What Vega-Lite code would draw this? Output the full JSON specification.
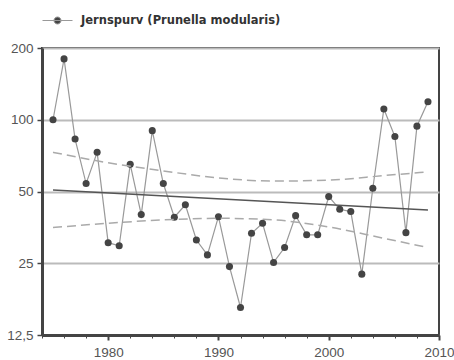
{
  "$schema": "https://vega.github.io/schema/vega-lite/v6.json",
  "autosize": {"type": "none"},
  "width": 397,
  "height": 287,
  "padding": {"left": 42, "top": 48, "right": 15, "bottom": 25},
  "background": "white",
  "config": {
    "view": {"stroke": "#444", "strokeWidth": 2},
    "font": "Liberation Sans",
    "axis": {"labelFont": "Liberation Sans", "labelFontSize": 13.5, "labelColor": "#555", "domainColor": "#444", "domainWidth": 3, "tickColor": "#444", "titleFont": "Liberation Sans"}
  },
  "datasets": {
    "obs": [
      {"year": 1975, "index": 100}, {"year": 1976, "index": 180}, {"year": 1977, "index": 83},
      {"year": 1978, "index": 54}, {"year": 1979, "index": 73}, {"year": 1980, "index": 30.5},
      {"year": 1981, "index": 29.6}, {"year": 1982, "index": 65}, {"year": 1983, "index": 40},
      {"year": 1984, "index": 90}, {"year": 1985, "index": 54}, {"year": 1986, "index": 39},
      {"year": 1987, "index": 44}, {"year": 1988, "index": 31.3}, {"year": 1989, "index": 27.1},
      {"year": 1990, "index": 39.2}, {"year": 1991, "index": 24.2}, {"year": 1992, "index": 16.3},
      {"year": 1993, "index": 33.4}, {"year": 1994, "index": 36.8}, {"year": 1995, "index": 25.2},
      {"year": 1996, "index": 29.1}, {"year": 1997, "index": 39.6}, {"year": 1998, "index": 32.9},
      {"year": 1999, "index": 32.9}, {"year": 2000, "index": 47.6}, {"year": 2001, "index": 42.1},
      {"year": 2002, "index": 41.2}, {"year": 2003, "index": 22.5}, {"year": 2004, "index": 51.6},
      {"year": 2005, "index": 111}, {"year": 2006, "index": 85}, {"year": 2007, "index": 33.6},
      {"year": 2008, "index": 94}, {"year": 2009, "index": 119}
    ],
    "fit": [
      {"curve": "trend", "year": 1975, "value": 50.7},
      {"curve": "trend", "year": 2009, "value": 41.8},
      {"curve": "upper", "year": 1975, "value": 73},
      {"curve": "upper", "year": 1980, "value": 66},
      {"curve": "upper", "year": 1985, "value": 61},
      {"curve": "upper", "year": 1990, "value": 57},
      {"curve": "upper", "year": 1995, "value": 55.3},
      {"curve": "upper", "year": 2000, "value": 55.8},
      {"curve": "upper", "year": 2005, "value": 58.3},
      {"curve": "upper", "year": 2009, "value": 60.5},
      {"curve": "lower", "year": 1975, "value": 35.3},
      {"curve": "lower", "year": 1980, "value": 36.8},
      {"curve": "lower", "year": 1985, "value": 38},
      {"curve": "lower", "year": 1990, "value": 38.6},
      {"curve": "lower", "year": 1995, "value": 38},
      {"curve": "lower", "year": 2000, "value": 35.5},
      {"curve": "lower", "year": 2005, "value": 31.8},
      {"curve": "lower", "year": 2009, "value": 29.1}
    ]
  },
  "encoding": {
    "x": {
      "field": "year", "type": "quantitative",
      "scale": {"domain": [1974, 2010], "nice": false, "zero": false},
      "axis": {
        "title": null, "grid": false,
        "values": [1974, 1976, 1978, 1980, 1982, 1984, 1986, 1988, 1990, 1992, 1994, 1996, 1998, 2000, 2002, 2004, 2006, 2008, 2010],
        "labelExpr": "datum.value % 10 === 0 ? format(datum.value, 'd') : ''",
        "labelFlush": false,
        "labelOverlap": false,
        "labelBound": false,
        "tickSize": {"condition": {"test": "datum.value % 10 === 0", "value": 5}, "value": 3},
        "tickWidth": {"condition": {"test": "datum.value % 10 === 0", "value": 2}, "value": 1},
        "labelPadding": 5
      }
    }
  },
  "layer": [
    {
      "data": {"name": "obs"},
      "mark": {"type": "line", "strokeWidth": 1.2, "color": "#999"},
      "encoding": {
        "y": {
          "field": "index", "type": "quantitative",
          "scale": {"type": "log", "domain": [12.5, 200], "nice": false},
          "axis": {
            "title": null,
            "values": [12.5, 25, 50, 100, 200],
            "labelExpr": "datum.value == 12.5 ? '12,5' : format(datum.value, 'd')",
            "labelFlush": false,
            "grid": true, "gridColor": "#bbb", "gridWidth": 2,
            "tickSize": 5, "tickWidth": 1.5, "labelPadding": 4
          }
        }
      }
    },
    {
      "data": {"name": "obs"},
      "mark": {"type": "point", "filled": true, "size": 50, "opacity": 1},
      "encoding": {
        "y": {"field": "index", "type": "quantitative"},
        "color": {
          "datum": "Jernspurv (Prunella modularis)",
          "scale": {"range": ["#444"]},
          "legend": {
            "title": null,
            "orient": "top",
            "offset": 22,
            "padding": 0,
            "symbolType": "M-1,0H1M-0.233,0A0.233,0.233,0,1,1,0.233,0A0.233,0.233,0,1,1,-0.233,0",
            "symbolSize": 900,
            "symbolStrokeWidth": 1,
            "symbolStrokeColor": "#999",
            "symbolFillColor": "#444",
            "symbolOpacity": 1,
            "labelFont": "DejaVu Sans",
            "labelFontSize": 11.5,
            "labelFontWeight": "bold",
            "labelColor": "#333",
            "labelOffset": 8,
            "labelLimit": 400
          }
        }
      }
    },
    {
      "data": {"name": "fit"},
      "transform": [{"filter": "datum.curve === 'trend'"}],
      "mark": {"type": "line", "color": "#555", "strokeWidth": 1.6},
      "encoding": {"y": {"field": "value", "type": "quantitative"}}
    },
    {
      "data": {"name": "fit"},
      "transform": [{"filter": "datum.curve !== 'trend'"}],
      "mark": {"type": "line", "color": "#aaa", "strokeWidth": 1.5, "strokeDash": [9, 5], "interpolate": "monotone"},
      "encoding": {
        "y": {"field": "value", "type": "quantitative"},
        "detail": {"field": "curve", "type": "nominal"}
      }
    }
  ]
}
